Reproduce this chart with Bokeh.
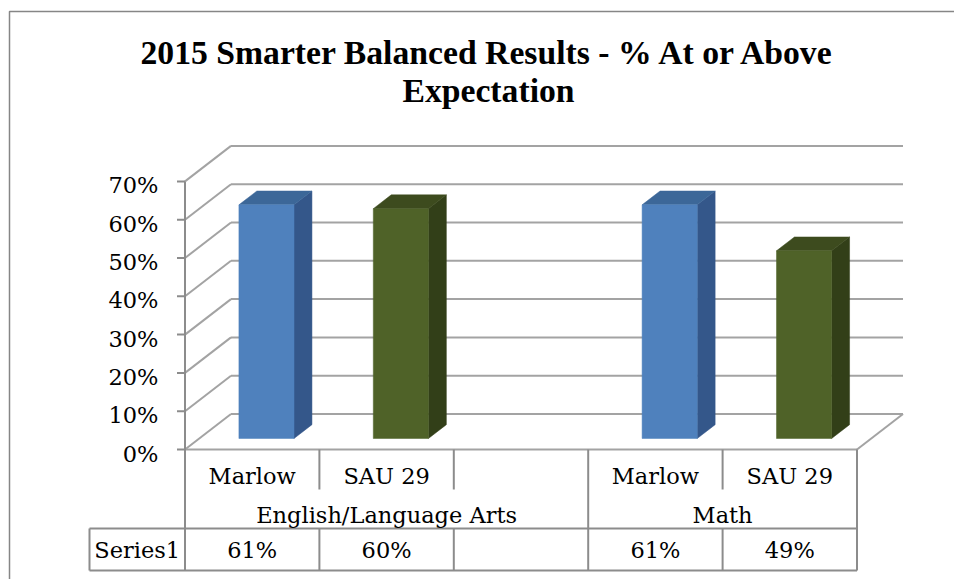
from bokeh.plotting import figure
from bokeh.models import Range1d, ColumnDataSource
from bokeh.core.properties import value
from bokeh.embed import file_html
from bokeh.resources import INLINE

# ---------------- data ----------------
title_lines = ["2015 Smarter Balanced Results - % At or Above", "Expectation"]
categories = ["Marlow", "SAU 29", "", "Marlow", "SAU 29"]
groups = ["English/Language Arts", "Math"]
group_spans = [3, 2]
values = [61, 60, None, 61, 49]
value_labels = ["61%", "60%", "", "61%", "49%"]
series_name = "Series1"
y_ticks = [0, 10, 20, 30, 40, 50, 60, 70]
y_tick_labels = ["0%", "10%", "20%", "30%", "40%", "50%", "60%", "70%"]

# ---------------- styles ----------------
FACE = {"Marlow": ("#4F81BD", "#34578A", "#3C6798"),
        "SAU 29": ("#4F6228", "#323F18", "#3D4B1E")}
GRID = "#a3a3a3"
TLINE = "#8c8c8c"
FONT = value("DejaVu Serif")
FS = "22.5px"

# ---------------- geometry (page pixels) ----------------
W, H, OFF = 954, 579, 0
AX_PX, CAT_PX = 184.5, 134.4
ZERO_PX, PCT_PX = 449.0, 3.83
DEPTH_DX_PX, DEPTH_DY_PX = 46.0, 35.5


def gx(px):
    return (px - AX_PX) / CAT_PX


def gy(py):
    return (ZERO_PX - py) / PCT_PX


DX = DEPTH_DX_PX / CAT_PX
DY = DEPTH_DY_PX / PCT_PX
N = len(categories)

p = figure(width=W, height=H, output_backend="svg", toolbar_location=None,
           x_axis_location=None, y_axis_location=None, min_border=0,
           x_range=Range1d(gx(OFF), gx(OFF + W)),
           y_range=Range1d(gy(OFF + H), gy(OFF)))
p.grid.visible = False
p.outline_line_color = None
p.background_fill_color = "white"
p.border_fill_color = "white"

# chart border (left / top visible)
p.line(x=[gx(9), gx(9), gx(980)], y=[gy(600), gy(11), gy(11)],
       line_color="#868686", line_width=1.5)

# ---------------- 3D walls / gridlines ----------------
ymax = max(y_ticks)
p.segment(x0=[DX] * len(y_ticks), y0=[t + DY for t in y_ticks],
          x1=[N + DX] * len(y_ticks), y1=[t + DY for t in y_ticks],
          line_color=GRID, line_width=2)
p.segment(x0=[0] * len(y_ticks), y0=y_ticks,
          x1=[DX] * len(y_ticks), y1=[t + DY for t in y_ticks],
          line_color=GRID, line_width=2)
# floor front and right edges
p.segment(x0=[0, N], y0=[0, 0], x1=[N, N + DX], y1=[0, DY],
          line_color=GRID, line_width=2)

# ---------------- bars ----------------
half, d1, d2 = 0.205, 0.31, 0.70
fx, fy, fc = [], [], []
sx, sy, sc = [], [], []
tx, ty, tc = [], [], []
for i, v in enumerate(values):
    if v is None:
        continue
    c = i + 0.5
    xl, xr = c - half, c + half
    front, side, top = FACE[categories[i]]
    fx.append([xl + d1 * DX, xr + d1 * DX, xr + d1 * DX, xl + d1 * DX])
    fy.append([d1 * DY, d1 * DY, v + d1 * DY, v + d1 * DY])
    fc.append(front)
    sx.append([xr + d1 * DX, xr + d2 * DX, xr + d2 * DX, xr + d1 * DX])
    sy.append([d1 * DY, d2 * DY, v + d2 * DY, v + d1 * DY])
    sc.append(side)
    tx.append([xl + d1 * DX, xr + d1 * DX, xr + d2 * DX, xl + d2 * DX])
    ty.append([v + d1 * DY, v + d1 * DY, v + d2 * DY, v + d2 * DY])
    tc.append(top)

p.patches(xs="xs", ys="ys", fill_color="c", line_color="c", line_width=0.5,
          source=ColumnDataSource(dict(xs=sx, ys=sy, c=sc)))
p.patches(xs="xs", ys="ys", fill_color="c", line_color="c", line_width=0.5,
          source=ColumnDataSource(dict(xs=tx, ys=ty, c=tc)))
p.patches(xs="xs", ys="ys", fill_color="c", line_color="c", line_width=0.5,
          source=ColumnDataSource(dict(xs=fx, ys=fy, c=fc)))

# ---------------- value axis ----------------
r1, r2, r3 = gy(489), gy(528), gy(570)
tick_len = 8 / CAT_PX
p.segment(x0=[-tick_len] * len(y_ticks), y0=y_ticks,
          x1=[0] * len(y_ticks), y1=y_ticks, line_color=TLINE, line_width=2)
p.text(x=[gx(158)] * len(y_ticks), y=[t - 4 / PCT_PX for t in y_ticks],
       text=y_tick_labels, text_font=FONT, text_font_size=FS,
       text_align="right", text_baseline="middle", text_color="black")

# ---------------- data table ----------------
tbl_left = gx(89)
vx0, vy0, vx1, vy1 = [], [], [], []
# axis line continuing down through table
vx0 += [0]; vy0 += [ymax]; vx1 += [0]; vy1 += [r3]
# right edge and group dividers
edges = [0]
for s in group_spans:
    edges.append(edges[-1] + s)
for e in edges[1:]:
    vx0 += [e]; vy0 += [0]; vx1 += [e]; vy1 += [r3]
# category dividers (row 1 and value row)
for k in range(1, N):
    if k in edges:
        continue
    vx0 += [k, k]; vy0 += [0, r2]; vx1 += [k, k]; vy1 += [r1, r3]
# series label cell
vx0 += [tbl_left]; vy0 += [r2]; vx1 += [tbl_left]; vy1 += [r3]
# horizontal rows
vx0 += [tbl_left, tbl_left]; vy0 += [r2, r3]; vx1 += [N, N]; vy1 += [r2, r3]
p.segment(x0=vx0, y0=vy0, x1=vx1, y1=vy1, line_color=TLINE, line_width=2)

cx = [i + 0.5 for i in range(N)]
p.text(x=cx, y=[gy(475)] * N, text=categories, text_font=FONT,
       text_font_size=FS, text_align="center", text_baseline="middle")
gcx = [(edges[k] + edges[k + 1]) / 2 for k in range(len(groups))]
p.text(x=gcx, y=[gy(514.5)] * len(groups), text=groups, text_font=FONT,
       text_font_size=FS, text_align="center", text_baseline="middle")
p.text(x=cx, y=[gy(549)] * N, text=value_labels, text_font=FONT,
       text_font_size=FS, text_align="center", text_baseline="middle")
p.text(x=[(tbl_left + 0) / 2], y=[gy(549)], text=[series_name], text_font=FONT,
       text_font_size=FS, text_align="center", text_baseline="middle")

# ---------------- title ----------------
p.text(x=[gx(488)] * 2, y=[gy(51.5), gy(90)], text=title_lines,
       text_font=value("Liberation Serif"), text_font_size="33.7px",
       text_font_style="bold", text_align="center", text_baseline="middle",
       text_color="black")

open("out.html", "w").write(file_html(p, INLINE))
